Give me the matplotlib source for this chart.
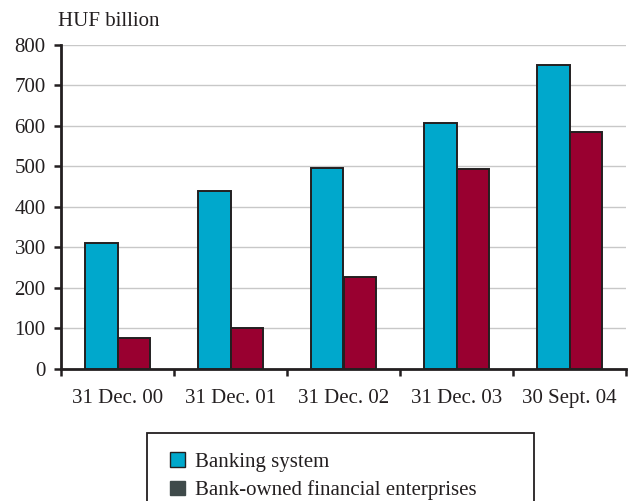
import matplotlib
matplotlib.use("Agg")
import matplotlib.pyplot as plt
import numpy as np
from matplotlib.patches import Patch, Rectangle

categories = ["31 Dec. 00", "31 Dec. 01", "31 Dec. 02", "31 Dec. 03", "30 Sept. 04"]
banking_system = [311, 440, 495, 608, 751]
bank_owned = [75, 99, 227, 494, 584]
series_labels = ["Banking system", "Bank-owned financial enterprises"]
y_ticks = [0, 100, 200, 300, 400, 500, 600, 700, 800]
unit_label = "HUF billion"

plt.rcParams["font.family"] = ["Liberation Serif", "DejaVu Serif"]
ink = "#231f20"
blue = "#00a8cc"
crimson = "#990030"
legend_grey = "#3f4a4a"
fs = 15

fig = plt.figure(figsize=(6.3, 5.01), dpi=100)
ax = fig.add_axes([61 / 630, 1 - 368.5 / 501, (626 - 61) / 630, (368.5 - 45) / 501])

x = np.arange(len(categories))
w = 0.285
ax.bar(x - w / 2, banking_system, width=w, color=blue, edgecolor=ink, linewidth=1.4, zorder=3)
ax.bar(x + w / 2, bank_owned, width=w, color=crimson, edgecolor=ink, linewidth=1.4, zorder=3)

ax.set_xlim(-0.5, len(categories) - 0.5)
ax.set_ylim(0, 800)
ax.set_yticks(y_ticks)
ax.yaxis.grid(True, color="#c8c8c8", linewidth=1.0, zorder=0)
ax.set_axisbelow(True)

ax.set_xticks(np.arange(-0.5, len(categories), 1.0))
ax.set_xticklabels([])
ax.set_xticks(x, minor=True)
ax.set_xticklabels(categories, minor=True)
ax.tick_params(axis="x", which="minor", length=0, pad=15, labelsize=fs, labelcolor=ink)
ax.tick_params(axis="x", which="major", length=5, width=1.8, color=ink, direction="out")
ax.tick_params(axis="y", length=5, width=1.8, color=ink, direction="out", labelsize=fs,
               labelcolor=ink, pad=6)

for side in ("top", "right"):
    ax.spines[side].set_visible(False)
for side in ("left", "bottom"):
    ax.spines[side].set_color(ink)
    ax.spines[side].set_linewidth(2.0)

fig.text(58 / 630, 1 - 22 / 501, unit_label, fontsize=fs, color=ink, va="center", ha="left")

# legend frame running off the lower edge
fig.patches.append(Rectangle((147 / 630, -0.05), (534 - 147) / 630, 0.05 + 1 - 433 / 501,
                             transform=fig.transFigure, facecolor="white", edgecolor=ink,
                             linewidth=1.3))
handles = [Patch(facecolor=blue, edgecolor=ink, linewidth=1.0),
           Patch(facecolor=legend_grey, edgecolor=legend_grey, linewidth=1.0)]
fig.legend(handles, series_labels, loc="upper left", bbox_to_anchor=(160 / 630, 1 - 442 / 501),
           frameon=False, fontsize=fs, handlelength=0.7, handleheight=0.7, handletextpad=0.5,
           labelspacing=0.4, borderpad=0, labelcolor=ink)

fig.savefig("out.png", dpi=100)
